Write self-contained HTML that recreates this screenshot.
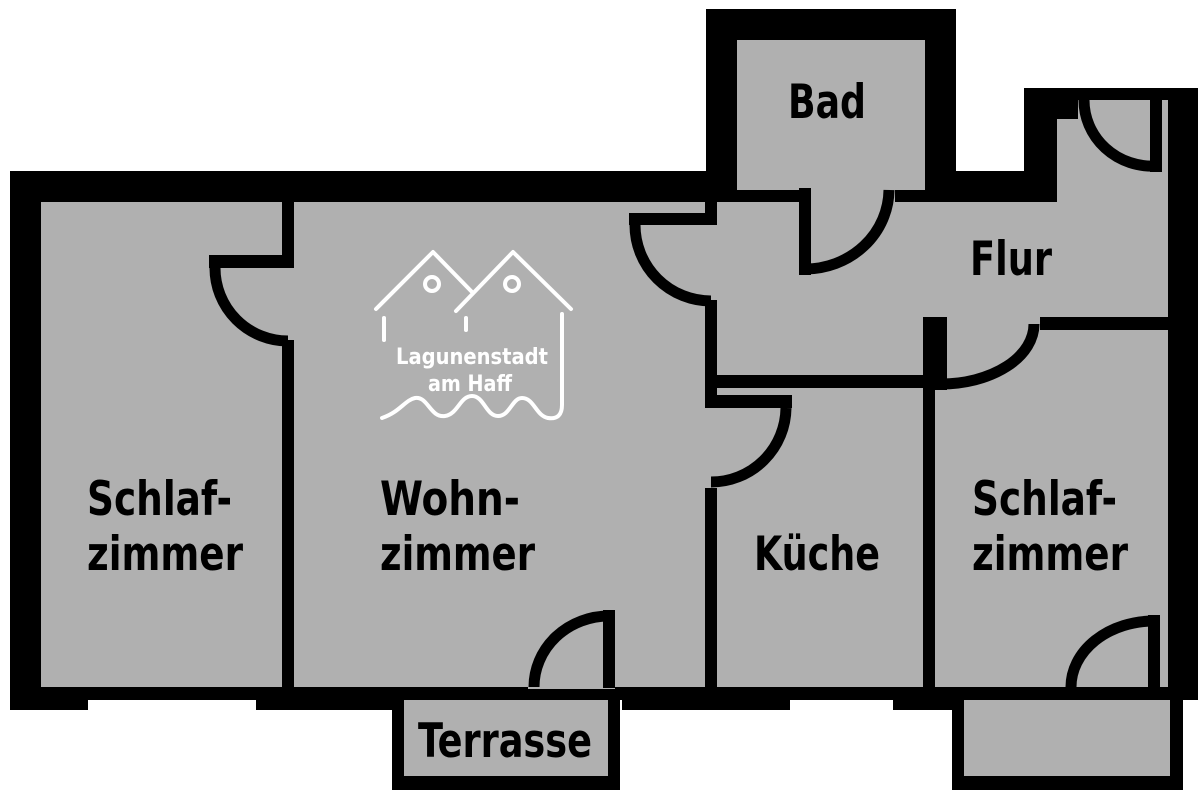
<!DOCTYPE html>
<html><head><meta charset="utf-8"><style>
html,body{margin:0;padding:0;background:#fff;width:1200px;height:800px;overflow:hidden}
svg{display:block}
.l{font-family:"DejaVu Sans Condensed","DejaVu Sans","Liberation Sans",sans-serif;font-weight:bold;font-size:47px;fill:#000}
.w{font-family:"DejaVu Sans Condensed","DejaVu Sans","Liberation Sans",sans-serif;font-weight:bold;font-size:22px;fill:#fff}
</style></head><body>
<svg width="1200" height="800" viewBox="0 0 1200 800">
<g fill="#000">
<rect x="10" y="171" width="696" height="529"/>
<rect x="706" y="9" width="250" height="691"/>
<rect x="956" y="171" width="68" height="529"/>
<rect x="1024" y="88" width="174" height="612"/>
<rect x="10" y="678" width="78" height="32"/>
<rect x="256" y="678" width="139" height="32"/>
<rect x="622" y="678" width="168" height="32"/>
<rect x="893" y="678" width="62" height="32"/>
<rect x="392" y="700" width="228" height="90"/>
<rect x="952" y="700" width="231" height="90"/>
</g>
<g fill="#b0b0b0">
<rect x="41" y="202" width="241" height="485"/>
<rect x="294" y="202" width="411" height="485"/>
<rect x="737" y="40" width="188" height="150"/>
<rect x="717" y="202" width="451" height="115"/>
<rect x="717" y="317" width="206" height="58"/>
<rect x="1057" y="119" width="111" height="83"/>
<rect x="1078" y="100" width="72" height="19"/>
<rect x="717" y="388" width="206" height="299"/>
<rect x="935" y="330" width="233" height="357"/>
<rect x="404" y="700" width="204" height="76"/>
<rect x="964" y="700" width="206" height="76"/>
<rect x="280" y="268" width="16" height="72"/>
<rect x="703" y="225" width="16" height="75"/>
<rect x="811" y="188" width="84" height="16"/>
<rect x="703" y="408" width="16" height="80"/>
<rect x="947" y="315" width="93" height="17"/>
<rect x="1150" y="100" width="18" height="100"/>
<rect x="528" y="685" width="87" height="4"/>
</g>
<g fill="#000">
<rect x="209" y="255" width="85" height="13"/>
<rect x="629" y="213" width="88" height="12"/>
<rect x="799" y="188" width="12" height="87"/>
<rect x="705" y="395" width="87" height="13"/>
<rect x="923" y="317" width="24" height="73"/>
<rect x="1150" y="100" width="12" height="72"/>
<rect x="603" y="610" width="12" height="78"/>
<rect x="1148" y="615" width="12" height="73"/>
</g>
<g fill="none" stroke="#000" stroke-width="11">
<path d="M215 268 A 73 73 0 0 0 288 341"/>
<path d="M635 225 A 76 76 0 0 0 711 301"/>
<path d="M805 269 A 84 80 0 0 0 889 190"/>
<path d="M711 482 A 75 75 0 0 0 786 408"/>
<path d="M941 384 A 93 60 0 0 0 1034 324"/>
<path d="M1084 100 A 68 66 0 0 0 1156 166"/>
<path d="M534 687 A 75 71 0 0 1 609 616"/>
<path d="M1071 687 A 83 66 0 0 1 1154 621"/>
</g>
<g fill="none" stroke="#fff" stroke-width="4" stroke-linecap="round" stroke-linejoin="round">
<path d="M376 309 L433 252 L472 292"/>
<path d="M384 318 V340"/>
<path d="M456 311 L513 252 L571 309"/>
<path d="M466 318 V330"/>
<circle cx="432" cy="284" r="7"/>
<circle cx="512" cy="284" r="7"/>
<path d="M562 314 V405 Q562 420 548 418"/>
<path d="M382 418 C400 412 405 400 415 398 C428 396 430 418 445 416 C458 414 460 396 472 396 C484 396 486 416 498 416 C510 416 512 398 522 398 C534 398 536 416 548 418"/>
</g>
<text class="w" x="396" y="364" textLength="152" lengthAdjust="spacingAndGlyphs">Lagunenstadt</text>
<text class="w" x="428" y="391" textLength="84" lengthAdjust="spacingAndGlyphs">am Haff</text>
<text class="l" x="87" y="515" textLength="145" lengthAdjust="spacingAndGlyphs">Schlaf-</text>
<text class="l" x="87" y="570" textLength="156" lengthAdjust="spacingAndGlyphs">zimmer</text>
<text class="l" x="380" y="515" textLength="140" lengthAdjust="spacingAndGlyphs">Wohn-</text>
<text class="l" x="380" y="570" textLength="155" lengthAdjust="spacingAndGlyphs">zimmer</text>
<text class="l" x="754" y="570" textLength="126" lengthAdjust="spacingAndGlyphs">Küche</text>
<text class="l" x="972" y="515" textLength="145" lengthAdjust="spacingAndGlyphs">Schlaf-</text>
<text class="l" x="972" y="570" textLength="156" lengthAdjust="spacingAndGlyphs">zimmer</text>
<text class="l" x="788" y="118" textLength="78" lengthAdjust="spacingAndGlyphs">Bad</text>
<text class="l" x="970" y="275" textLength="82" lengthAdjust="spacingAndGlyphs">Flur</text>
<text class="l" x="418" y="757" textLength="174" lengthAdjust="spacingAndGlyphs">Terrasse</text>
</svg>
</body></html>
